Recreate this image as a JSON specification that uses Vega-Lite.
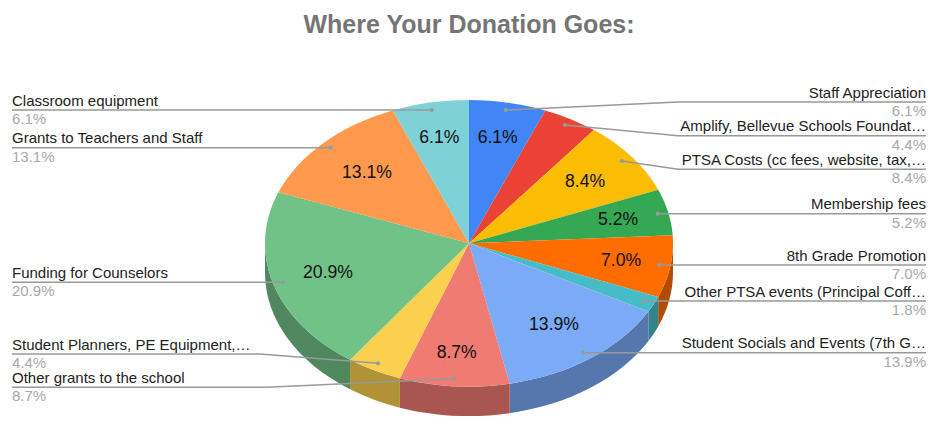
{"$schema":"https://vega.github.io/schema/vega-lite/v6.json","width":942,"height":442,"padding":0,"autosize":"none","background":"#ffffff","title":{"text":"Where Your Donation Goes:","font":"Liberation Sans","fontSize":25,"fontWeight":"bold","color":"#757575","anchor":"middle","offset":0,"dy":38,"dx":-2},"config":{"view":{"stroke":null},"font":"Liberation Sans"},"data":{"values":[{"order":1,"label":"Staff Appreciation","share":0.061},{"order":2,"label":"Amplify, Bellevue Schools Foundat…","share":0.044},{"order":3,"label":"PTSA Costs (cc fees, website, tax,…","share":0.084},{"order":4,"label":"Membership fees","share":0.052},{"order":5,"label":"8th Grade Promotion","share":0.07},{"order":6,"label":"Other PTSA events (Principal Coff…","share":0.018},{"order":7,"label":"Student Socials and Events (7th G…","share":0.139},{"order":8,"label":"Other grants to the school","share":0.087},{"order":9,"label":"Student Planners, PE Equipment,…","share":0.044},{"order":10,"label":"Funding for Counselors","share":0.209},{"order":11,"label":"Grants to Teachers and Staff","share":0.131},{"order":12,"label":"Classroom equipment","share":0.061}]},"resolve":{"scale":{"x":"independent","y":"independent","shape":"independent","color":"independent"}},"layer":[{"transform":[{"filter":"datum.order>=5 && datum.order<=10"}],"mark":{"type":"point","filled":true,"opacity":1,"size":4,"strokeWidth":0},"encoding":{"shape":{"field":"order","type":"nominal","legend":null,"scale":{"domain":[5,6,7,8,9,10],"range":["M202,22.3A204,143.3 0 0 1 187.2,75.9L187.2,105.4A204,143.3 0 0 0 202,51.8Z","M187.2,75.9A204,143.3 0 0 1 177.4,90.6L177.4,120.1A204,143.3 0 0 0 187.2,105.4Z","M177.4,90.6A204,143.3 0 0 1 38.7,162.7L38.7,192.2A204,143.3 0 0 0 177.4,120.1Z","M38.7,162.7A204,143.3 0 0 1 -71.1,157.2L-71.1,186.7A204,143.3 0 0 0 38.7,192.2Z","M-71.1,157.2A204,143.3 0 0 1 -120.9,138.8L-120.9,168.3A204,143.3 0 0 0 -71.1,186.7Z","M-120.9,138.8A204,143.3 0 0 1 -206,22.3L-206,51.8A204,143.3 0 0 0 -120.9,168.3Z"]}},"color":{"field":"order","type":"nominal","legend":null,"scale":{"domain":[5,6,7,8,9,10],"range":["#B34C01","#31848B","#5677AD","#A8564F","#B09237","#4F885F"]}}}},{"mark":{"type":"point","filled":true,"opacity":1,"size":4,"strokeWidth":0},"encoding":{"shape":{"field":"order","type":"nominal","legend":null,"scale":{"domain":[1,2,3,4,5,6,7,8,9,10,11,12],"range":["M-2,22.3L-2,-121A204,143.3 0 0 1 74.3,-110.6Z","M-2,22.3L74.3,-110.6A204,143.3 0 0 1 123,-90.9Z","M-2,22.3L123,-90.9A204,143.3 0 0 1 187.2,-31.3Z","M-2,22.3L187.2,-31.3A204,143.3 0 0 1 201.7,14.2Z","M-2,22.3L201.7,14.2A204,143.3 0 0 1 187.2,75.9Z","M-2,22.3L187.2,75.9A204,143.3 0 0 1 177.4,90.6Z","M-2,22.3L177.4,90.6A204,143.3 0 0 1 38.7,162.7Z","M-2,22.3L38.7,162.7A204,143.3 0 0 1 -71.1,157.2Z","M-2,22.3L-71.1,157.2A204,143.3 0 0 1 -120.9,138.8Z","M-2,22.3L-120.9,138.8A204,143.3 0 0 1 -192.6,-28.8Z","M-2,22.3L-192.6,-28.8A204,143.3 0 0 1 -78.3,-110.6Z","M-2,22.3L-78.3,-110.6A204,143.3 0 0 1 -2,-121Z"]}},"color":{"field":"order","type":"nominal","legend":null,"scale":{"domain":[1,2,3,4,5,6,7,8,9,10,11,12],"range":["#4285F4","#EA4335","#FBBC04","#34A853","#FF6D01","#46BDC6","#7BAAF7","#F07B72","#FCD04F","#71C287","#FF994D","#7ED1D7"]}}}},{"mark":{"type":"point","filled":false,"opacity":1,"size":4,"stroke":"#999999","strokeWidth":1.5},"encoding":{"shape":{"field":"order","type":"nominal","legend":null,"scale":{"domain":[1,2,3,4,5,6,7,8,9,10,11,12],"range":["M455,-119L207,-119L34.7,-111","M455,-85.3L207,-85.3L94,-96","M455,-51.7L207,-51.7L151,-60","M455,-7.3L186.7,-7.3","M455,44L188,44","M455,80L172,80","M455,131.7L112,131.7","M-459,166.3L-204,166.3L-17,157.7","M-459,133L-211,133L-93,142.3","M-459,61.3L-188,61.3","M-459,-73.3L-140,-73.3","M-459,-111L-39.3,-111"]}}}},{"mark":{"type":"point","filled":true,"opacity":1,"size":18,"color":"#999999","strokeWidth":0,"shape":"circle"},"encoding":{"x":{"field":"order","type":"quantitative","axis":null,"scale":{"domain":[1,2,3,4,5,6,7,8,9,10,11,12],"range":[505.7,565,622,657.7,659,643,583,454,378,283,331,431.7]}},"y":{"field":"order","type":"quantitative","axis":null,"scale":{"domain":[1,2,3,4,5,6,7,8,9,10,11,12],"range":[110,125,161,213.7,265,301,352.7,378.7,363.3,282.3,147.7,110]}}}},{"transform":[{"filter":"datum.share>=0.05"}],"mark":{"type":"text","font":"Liberation Sans","fontSize":17.6,"color":"#111111","align":"center","baseline":"alphabetic"},"encoding":{"text":{"field":"share","type":"quantitative","format":".1%"},"x":{"field":"order","type":"quantitative","axis":null,"scale":{"domain":[1,3,4,5,7,8,10,11,12],"range":[497.7,585,618,621,554,456.7,328,367,439.3]}},"y":{"field":"order","type":"quantitative","axis":null,"scale":{"domain":[1,3,4,5,7,8,10,11,12],"range":[143.3,187,225,266,330,358,278,178,143.3]}}}},{"transform":[{"filter":"datum.order<=7"}],"mark":{"type":"text","font":"Liberation Sans","fontSize":15,"color":"#222222","align":"right","baseline":"alphabetic"},"encoding":{"text":{"field":"label","type":"nominal"},"x":{"field":"order","type":"quantitative","axis":null,"scale":{"domain":[1,7],"range":[926,926]}},"y":{"field":"order","type":"quantitative","axis":null,"scale":{"domain":[1,2,3,4,5,6,7],"range":[97.5,131.2,164.8,209.2,260.5,296.5,348.2]}}}},{"transform":[{"filter":"datum.order<=7"}],"mark":{"type":"text","font":"Liberation Sans","fontSize":15,"color":"#a9a9a9","align":"right","baseline":"alphabetic"},"encoding":{"text":{"field":"share","type":"quantitative","format":".1%"},"x":{"field":"order","type":"quantitative","axis":null,"scale":{"domain":[1,7],"range":[926,926]}},"y":{"field":"order","type":"quantitative","axis":null,"scale":{"domain":[1,2,3,4,5,6,7],"range":[116,149.7,183.3,227.7,279,315,366.7]}}}},{"transform":[{"filter":"datum.order>=8"}],"mark":{"type":"text","font":"Liberation Sans","fontSize":15,"color":"#222222","align":"left","baseline":"alphabetic"},"encoding":{"text":{"field":"label","type":"nominal"},"x":{"field":"order","type":"quantitative","axis":null,"scale":{"domain":[8,12],"range":[12,12]}},"y":{"field":"order","type":"quantitative","axis":null,"scale":{"domain":[8,9,10,11,12],"range":[382.8,349.5,277.8,143.2,105.5]}}}},{"transform":[{"filter":"datum.order>=8"}],"mark":{"type":"text","font":"Liberation Sans","fontSize":15,"color":"#a9a9a9","align":"left","baseline":"alphabetic"},"encoding":{"text":{"field":"share","type":"quantitative","format":".1%"},"x":{"field":"order","type":"quantitative","axis":null,"scale":{"domain":[8,12],"range":[12,12]}},"y":{"field":"order","type":"quantitative","axis":null,"scale":{"domain":[8,9,10,11,12],"range":[401.3,368,296.3,161.7,124]}}}}]}
